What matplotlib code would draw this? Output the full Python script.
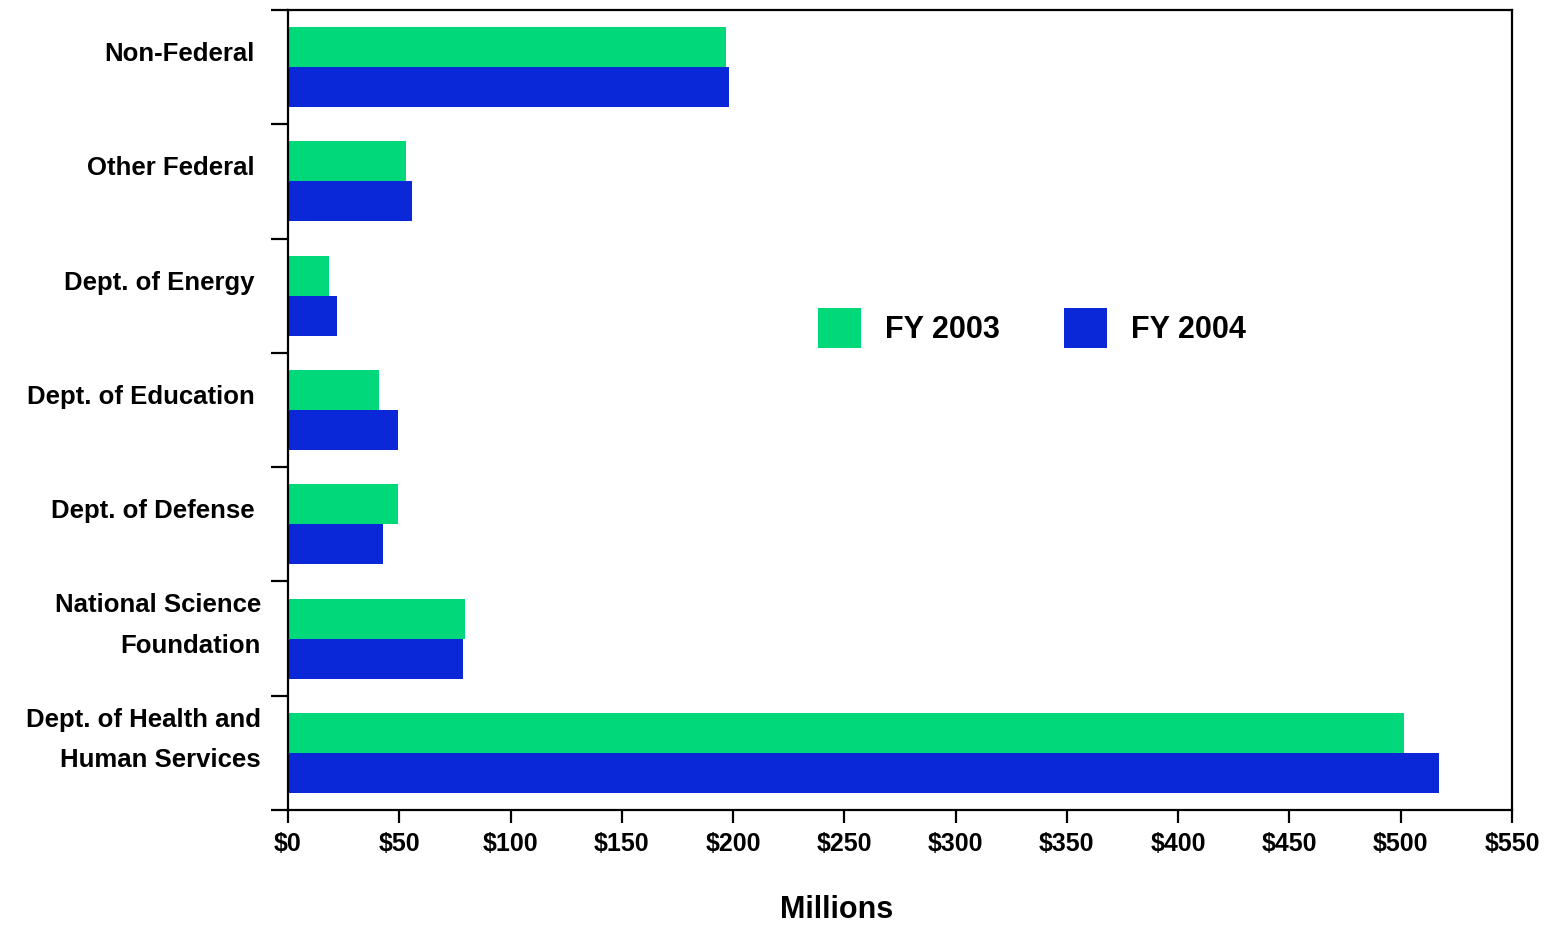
import matplotlib
matplotlib.use("Agg")
import matplotlib.pyplot as plt
import numpy as np

CATEGORIES = [
    "Non-Federal",
    "Other Federal",
    "Dept. of Energy",
    "Dept. of Education",
    "Dept. of Defense",
    "National Science\nFoundation",
    "Dept. of Health and\nHuman Services",
]
FY2003 = [197, 53, 18.5, 41, 49.5, 79.5, 501.5]
FY2004 = [198, 55.5, 22, 49.5, 42.5, 78.5, 517]
X_TICKS = list(range(0, 551, 50))
X_TICK_LABELS = [f"${v}" for v in X_TICKS]

GREEN = "#00D87A"
BLUE = "#0A28D8"
FONT = ["Liberation Sans", "DejaVu Sans"]

plt.rcParams["font.family"] = FONT
plt.rcParams["font.weight"] = "bold"

fig = plt.figure(figsize=(15.51, 9.27), dpi=100)
ax = fig.add_axes([288 / 1551, 1 - 810 / 927, (1512 - 288) / 1551, 800 / 927])

y = np.arange(len(CATEGORIES))
h = 0.35
ax.barh(y - h / 2, FY2003, height=h, color=GREEN, label="FY 2003")
ax.barh(y + h / 2, FY2004, height=h, color=BLUE, label="FY 2004")

ax.set_xlim(0, 550)
ax.set_ylim(len(CATEGORIES) - 0.5, -0.5)

for s in ax.spines.values():
    s.set_linewidth(1.6)

ax.set_xticks(X_TICKS)
ax.set_xticklabels(X_TICK_LABELS, fontsize=18, fontweight="bold")
ax.tick_params(axis="x", length=9, width=1.6, pad=7)

# category boundaries get the tick marks, labels sit a bit above band centres
ax.set_yticks(np.arange(-0.5, len(CATEGORIES)), labels=[])
ax.tick_params(axis="y", length=12, width=1.6)
for i, cat in enumerate(CATEGORIES):
    two_lines = "\n" in cat
    ax.text(-0.022 if two_lines else -0.027, i - 0.115, cat, transform=ax.get_yaxis_transform(),
            ha="right", va="center", fontsize=18.5, fontweight="bold", linespacing=1.85)

fig.text(837 / 1551, 1 - 910 / 927, "Millions", ha="center", va="center",
         fontsize=22, fontweight="bold")

ax.legend(ncol=2, frameon=False, loc="center", bbox_to_anchor=(1032 / 1551, 1 - 328 / 927),
          bbox_transform=fig.transFigure, prop={"size": 22, "weight": "bold"},
          handlelength=1.4, handleheight=1.6, handletextpad=0.8, columnspacing=2.1)

fig.savefig("out.png", dpi=100)
